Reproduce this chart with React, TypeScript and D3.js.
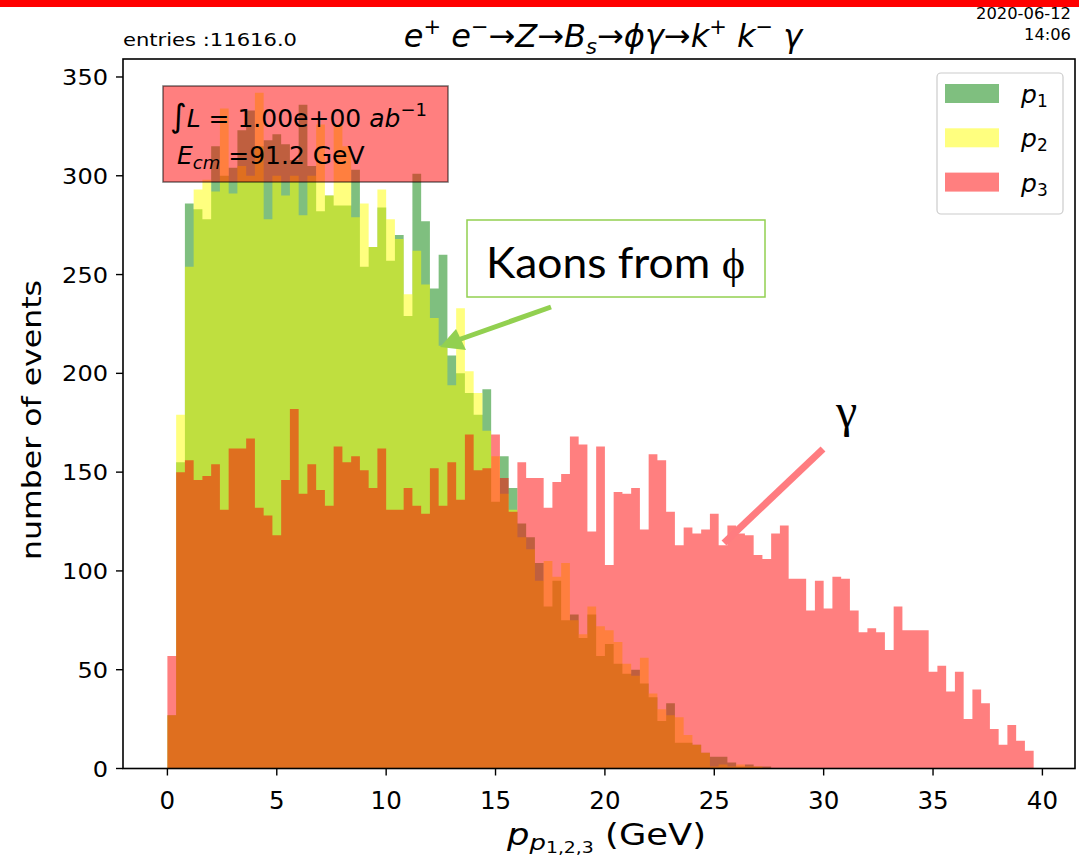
import React from 'react';
import * as d3 from 'd3';

// ---------- data (counts per 0.4 GeV bin, 0 .. 39.6 GeV) ----------
const binWidth = 0.4;
const p1Counts = [
  27, 155, 286, 283, 278, 315, 300, 304, 323, 333,
  315, 318, 321, 316, 308, 336, 305, 282, 290, 285,
  285, 303, 254, 264, 284, 257, 270, 229, 301, 277,
  243, 260, 209, 200, 190, 179, 192, 135, 158, 142,
  124, 117, 104, 82, 95, 75, 78, 66, 78, 57,
  63, 53, 48, 50, 43, 36, 24, 33, 13, 13,
  12, 8, 6, 6, 3, 1, 2, 1, 1, 0,
  0, 0, 0, 0, 0, 0, 0, 0, 0, 0,
  0, 0, 0, 0, 0, 0, 0, 0, 0, 0,
  0, 0, 0, 0, 0, 0, 0, 0, 0,
];
const p2Counts = [
  27, 179, 254, 293, 298, 292, 334, 291, 305, 300,
  342, 278, 300, 290, 300, 280, 300, 326, 290, 326,
  315, 279, 286, 264, 293, 278, 268, 240, 262, 245,
  228, 214, 194, 233, 201, 190, 171, 158, 139, 131,
  117, 111, 95, 105, 97, 104, 75, 68, 82, 72,
  70, 64, 53, 47, 56, 38, 30, 27, 26, 17,
  12, 8, 1, 2, 1, 2, 1, 1, 0, 0,
  0, 0, 0, 0, 0, 0, 0, 0, 0, 0,
  0, 0, 0, 0, 0, 0, 0, 0, 0, 0,
  0, 0, 0, 0, 0, 0, 0, 0, 0,
];
const p3Counts = [
  57, 150, 156, 146, 148, 154, 131, 162, 162, 167,
  132, 128, 118, 146, 182, 139, 154, 141, 133, 163,
  155, 158, 151, 142, 162, 131, 131, 142, 133, 129,
  152, 133, 155, 136, 169, 151, 152, 169, 147, 130,
  155, 147, 147, 132, 145, 149, 168, 164, 120, 163,
  103, 140, 139, 142, 121, 159, 156, 130, 113, 122,
  119, 121, 129, 113, 123, 119, 118, 108, 106, 119,
  123, 96, 96, 80, 95, 81, 97, 96, 80, 69,
  71, 69, 60, 82, 70, 70, 70, 49, 52, 39,
  49, 25, 40, 33, 20, 12, 22, 14, 9,
];
const seriesNames = ['1', '2', '3'];
const seriesColors = ['#008000', '#ffff00', '#ff0000'];
const yTicks = [0, 50, 100, 150, 200, 250, 300, 350];
const xTicks = [0, 5, 10, 15, 20, 25, 30, 35, 40];

const SANS = 'DejaVu Sans, sans-serif';

export default function App() {
  const W = 1079;
  const H = 860;
  const left = 123, right = 1075, top = 59, bottom = 768.5;
  const x = d3.scaleLinear().domain([-2.03, 41.49]).range([left, right]);
  const y = d3.scaleLinear().domain([0, 359.1]).range([bottom, top]);

  const area = d3
    .area<[number, number]>()
    .x((d) => x(d[0]))
    .y0(y(0))
    .y1((d) => y(d[1]))
    .curve(d3.curveStepAfter);

  const pts = (c: number[]): [number, number][] => {
    const p: [number, number][] = c.map((v, i) => [i * binWidth, v]);
    p.push([c.length * binWidth, c[c.length - 1]]);
    return p;
  };
  const series = [p1Counts, p2Counts, p3Counts];

  return (
    <svg
      width={W}
      height={H}
      viewBox={`0 0 ${W} ${H}`}
      style={{ position: 'absolute', left: 0, top: 0, background: '#fff' }}
      fontFamily={SANS}
    >
      <rect x={0} y={0} width={W} height={H} fill="#fff" />
      {/* red strip at top */}
      <rect x={0} y={0} width={W} height={7} fill="#ff0000" />

      {/* histograms */}
      {series.map((c, i) => (
        <path key={i} d={area(pts(c)) || ''} fill={seriesColors[i]} fillOpacity={0.5} stroke="none" />
      ))}

      {/* axes frame */}
      <rect x={left} y={top} width={right - left} height={bottom - top} fill="none" stroke="#000" strokeWidth={1.6} />

      {/* y ticks */}
      {yTicks.map((t) => (
        <g key={t}>
          <line x1={left - 7} x2={left} y1={y(t)} y2={y(t)} stroke="#000" strokeWidth={1.4} />
          <text
            x={108}
            y={y(t) + 8}
            textAnchor="end"
            fontSize={22}
            fill="#000"
            textLength={String(t).length * 15.3}
            lengthAdjust="spacingAndGlyphs"
          >
            {t}
          </text>
        </g>
      ))}
      {/* x ticks */}
      {xTicks.map((t) => (
        <g key={t}>
          <line x1={x(t)} x2={x(t)} y1={bottom} y2={bottom + 7} stroke="#000" strokeWidth={1.4} />
          <text
            x={x(t)}
            y={809}
            textAnchor="middle"
            fontSize={24}
            fill="#000"
            textLength={String(t).length * 15.6}
            lengthAdjust="spacingAndGlyphs"
          >
            {t}
          </text>
        </g>
      ))}

      {/* axis labels */}
      <text
        transform={`translate(41, 420) rotate(-90)`}
        textAnchor="middle"
        fontSize={26}
        fill="#000"
        textLength={280}
        lengthAdjust="spacingAndGlyphs"
      >
        number of events
      </text>
      <text x={507} y={845} fontSize={30} fill="#000" textLength={199} lengthAdjust="spacingAndGlyphs">
        <tspan fontStyle="italic">p</tspan>
        <tspan fontStyle="italic" fontSize={22} dy={5}>p</tspan>
        <tspan fontSize={16} dy={3}>1,2,3</tspan>
        <tspan dy={-8}> (GeV)</tspan>
      </text>

      {/* header texts */}
      <text x={123} y={46} fontSize={18} fill="#000" textLength={174} lengthAdjust="spacingAndGlyphs">
        entries :11616.0
      </text>
      <text x={603} y={47} textAnchor="middle" fontSize={32} fill="#000" fontStyle="italic">
        <tspan>e</tspan>
        <tspan fontSize={21} dy={-13}>+</tspan>
        <tspan dy={13}> e</tspan>
        <tspan fontSize={21} dy={-13}>−</tspan>
        <tspan dy={13} fontStyle="normal">→</tspan>
        <tspan>Z</tspan>
        <tspan fontStyle="normal">→</tspan>
        <tspan>B</tspan>
        <tspan fontSize={21} dy={7}>s</tspan>
        <tspan dy={-7} fontStyle="normal">→</tspan>
        <tspan>ϕγ</tspan>
        <tspan fontStyle="normal">→</tspan>
        <tspan>k</tspan>
        <tspan fontSize={21} dy={-13}>+</tspan>
        <tspan dy={13}> k</tspan>
        <tspan fontSize={21} dy={-13}>−</tspan>
        <tspan dy={13}> γ</tspan>
      </text>
      <text x={1071} y={19} textAnchor="end" fontSize={16} fill="#000" textLength={95} lengthAdjust="spacingAndGlyphs">2020-06-12</text>
      <text x={1071} y={40} textAnchor="end" fontSize={16} fill="#000" textLength={47} lengthAdjust="spacingAndGlyphs">14:06</text>

      {/* info box */}
      <rect x={163} y={86} width={285} height={96} fill="#ff0000" fillOpacity={0.5} stroke="#000" strokeOpacity={0.55} strokeWidth={1.5} />
      <text x={170} y={127} fontSize={25} fill="#000">
        <tspan fontSize={32}>∫</tspan>
        <tspan fontStyle="italic">L</tspan>
        <tspan> = 1.00e+00 </tspan>
        <tspan fontStyle="italic">ab</tspan>
        <tspan fontSize={18} dy={-11}>−1</tspan>
      </text>
      <text x={177} y={164} fontSize={25} fill="#000">
        <tspan fontStyle="italic">E</tspan>
        <tspan fontStyle="italic" fontSize={18} dy={5}>cm</tspan>
        <tspan dy={-5}> =91.2 GeV</tspan>
      </text>

      {/* legend */}
      <rect x={937} y={73} width={126} height={141} rx={4} fill="#fff" fillOpacity={0.8} stroke="#cccccc" strokeWidth={1.2} />
      {seriesNames.map((n, i) => (
        <g key={n}>
          <rect x={945} y={84 + i * 44.3} width={54} height={19} fill={seriesColors[i]} fillOpacity={0.5} />
          <text x={1021} y={103 + i * 44.3} fontSize={25} fill="#000">
            <tspan fontStyle="italic">p</tspan>
            <tspan fontSize={17} dy={4}>{n}</tspan>
          </text>
        </g>
      ))}

      {/* annotation: kaons */}
      <rect x={467} y={220} width={298} height={77} fill="#fff" stroke="#92d050" strokeWidth={1.5} />
      <text x={486} y={278} fontSize={42} fill="#000" fontFamily="Lato, sans-serif" textLength={259} lengthAdjust="spacingAndGlyphs">
        Kaons from <tspan fontFamily="Liberation Serif, serif">ϕ</tspan>
      </text>
      <line x1={551} y1={307} x2={458} y2={340} stroke="#92d050" strokeWidth={5} />
      <path d="M440,347 L456,329 L466,350 Z" fill="#92d050" />

      {/* annotation: gamma */}
      <line x1={823} y1={449} x2={724} y2={543} stroke="#ff7c80" strokeWidth={7} />
      <text x={836} y={427} fontSize={48} fill="#000" fontFamily="Liberation Serif, serif">γ</text>
    </svg>
  );
}
